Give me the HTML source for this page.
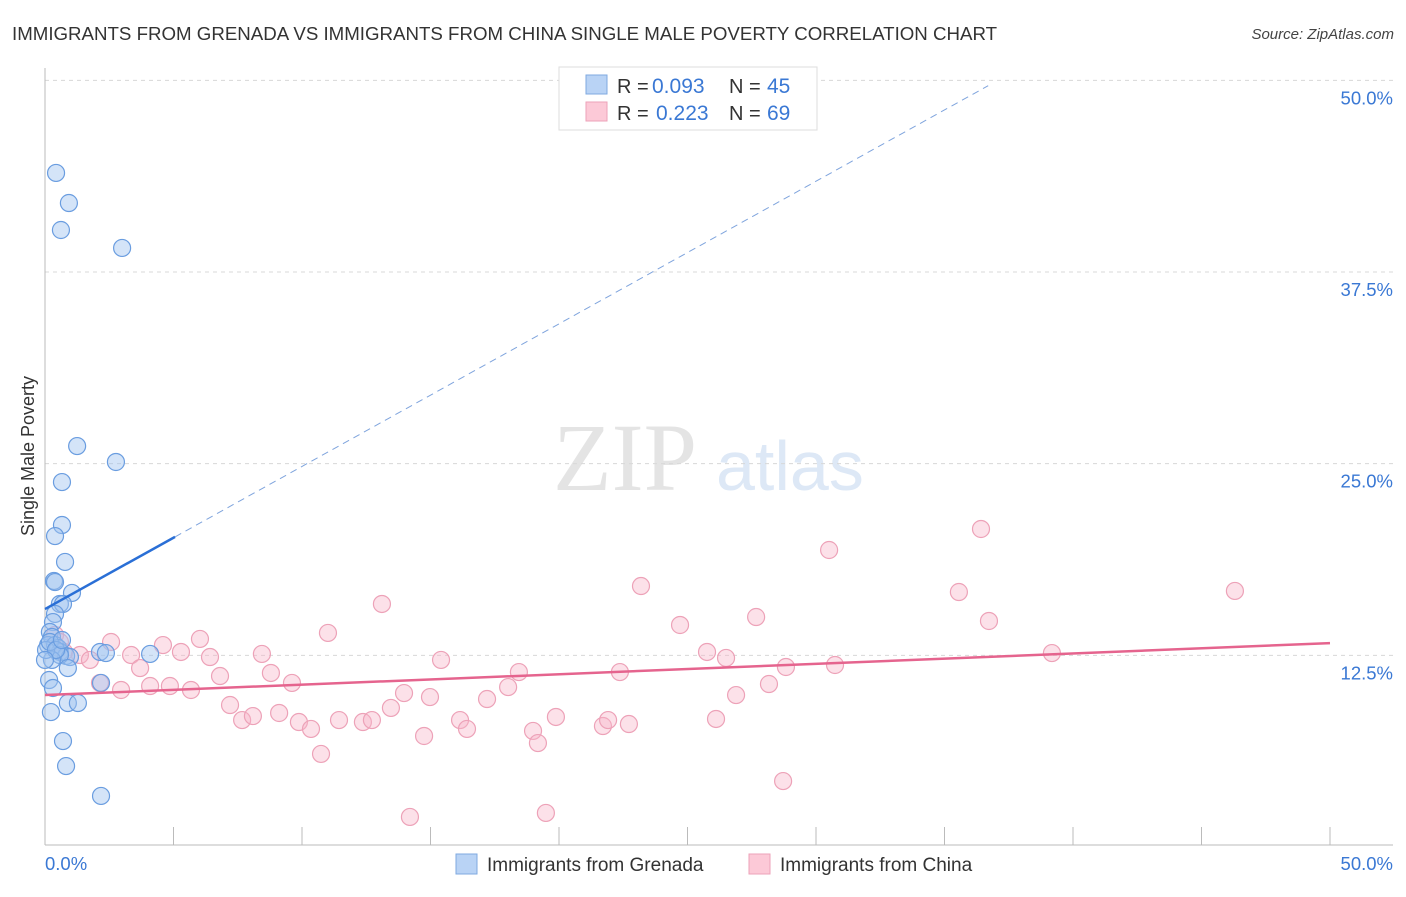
<!DOCTYPE html>
<html><head><meta charset="utf-8"><style>
body{margin:0;background:#fff;font-family:"Liberation Sans",sans-serif}
</style></head><body>
<svg id="chart" width="1406" height="892" xmlns="http://www.w3.org/2000/svg" font-family="Liberation Sans, sans-serif">
<text x="12" y="40" font-size="18.7" fill="#333">IMMIGRANTS FROM GRENADA VS IMMIGRANTS FROM CHINA SINGLE MALE POVERTY CORRELATION CHART</text>
<text x="1394" y="39" font-size="15" fill="#444" font-style="italic" text-anchor="end">Source: ZipAtlas.com</text>
<text x="553" y="490" font-size="96" font-family="Liberation Serif, serif" fill="#e4e4e4">ZIP</text>
<text x="716" y="490" font-size="70" fill="#dde8f6">atlas</text>
<g id="grid"></g>
<g id="axes"></g>
<g id="pink"></g>
<g id="blue"></g>
<g id="trends"></g>
<text transform="translate(34,456) rotate(-90)" font-size="18" fill="#333" text-anchor="middle">Single Male Poverty</text>
<g>
<rect x="559" y="67" width="258" height="63" fill="#fff" stroke="#ddd"/>
<rect x="586" y="75" width="21" height="19" fill="#b9d3f5" stroke="#7fa9e0"/>
<rect x="586" y="102" width="21" height="19" fill="#fcc9d7" stroke="#eda2b8"/>
<text x="617" y="93" font-size="20" fill="#333">R =</text>
<text x="652" y="93" font-size="21" fill="#3a78d4">0.093</text>
<text x="729" y="93" font-size="20" fill="#333">N =</text>
<text x="767" y="93" font-size="21" fill="#3a78d4">45</text>
<text x="617" y="120" font-size="20" fill="#333">R =</text>
<text x="656" y="120" font-size="21" fill="#3a78d4">0.223</text>
<text x="729" y="120" font-size="20" fill="#333">N =</text>
<text x="767" y="120" font-size="21" fill="#3a78d4">69</text>
</g>
<g>
<rect x="456" y="854" width="21" height="20" fill="#b9d3f5" stroke="#7fa9e0"/>
<text x="487" y="871" font-size="19" fill="#333">Immigrants from Grenada</text>
<rect x="749" y="854" width="21" height="20" fill="#fcc9d7" stroke="#eda2b8"/>
<text x="780" y="871" font-size="19" fill="#333">Immigrants from China</text>
</g>
</svg>
<script>
const yTicks=[12.5,25,37.5,50];
const yTickLabels=["12.5%","25.0%","37.5%","50.0%"];
const xTicks=[0,5,10,15,20,25,30,35,40,45,50];
const blueX=[0.43,0.93,0.62,3.0,1.25,2.76,0.66,0.66,0.39,0.78,0.35,0.39,1.05,0.58,0.70,0.39,0.31,0.19,0.27,0.12,0.39,0.51,0.58,0.82,0.97,2.14,2.37,4.09,0.58,0.27,0.89,0.16,0.31,0.89,1.28,0.23,0.70,0.82,2.18,2.18,0.04,0.19,0.43,0.66,0.0];
const blueY=[43.96,42.0,40.24,39.07,26.15,25.11,23.8,21.0,20.28,18.59,17.35,17.28,16.57,15.85,15.85,15.2,14.67,14.02,13.7,13.17,13.17,12.98,12.72,12.46,12.39,12.72,12.65,12.59,12.52,12.2,11.67,10.89,10.37,9.39,9.39,8.8,6.91,5.28,3.33,10.7,12.85,13.37,12.85,13.5,12.2];
const pinkX=[0.39,0.58,0.74,1.36,1.75,2.14,2.57,2.96,3.35,3.70,4.09,4.59,4.86,5.29,5.68,6.03,6.42,6.81,7.20,7.67,8.09,8.44,8.79,9.11,9.61,9.88,10.35,10.74,11.01,11.44,12.37,12.72,13.11,13.46,13.97,14.20,14.75,14.98,15.41,16.15,16.42,17.20,18.02,18.44,18.99,19.18,19.49,19.88,21.71,21.91,22.37,22.72,23.19,24.71,25.76,26.11,26.50,26.89,27.67,28.17,28.72,28.83,30.51,30.74,35.56,36.42,36.73,39.18,46.30];
const pinkY=[13.83,13.37,12.72,12.52,12.2,10.7,13.37,10.24,12.52,11.67,10.5,13.17,10.5,12.72,10.24,13.57,12.39,11.15,9.26,8.28,8.54,12.59,11.35,8.74,10.7,8.15,7.7,6.07,13.96,8.28,8.15,8.28,15.85,9.07,10.04,1.96,7.24,9.78,12.2,8.28,7.7,9.65,10.43,11.41,7.57,6.78,2.22,8.48,7.89,8.28,11.41,8.02,17.02,14.48,12.72,8.35,12.33,9.91,15.0,10.63,4.30,11.74,19.37,11.87,16.63,20.74,14.74,12.65,16.70];
const blueTrend=[15.52,0.93];
const pinkTrend=[9.91,13.30];
const NS="http://www.w3.org/2000/svg";
const sx=v=>45+v*25.7, sy=v=>847-v*15.333;
function mk(tag,attrs,parent){const e=document.createElementNS(NS,tag);for(const k in attrs)e.setAttribute(k,attrs[k]);document.getElementById(parent).appendChild(e);return e;}
yTicks.forEach((t,i)=>{
 const l=mk('line',{x1:45,x2:1393,y1:sy(t),y2:sy(t),stroke:'#d8d8d8','stroke-dasharray':'4,4'},'grid');
 
 
 const tx=mk('text',{x:1393,y:sy(t)+24,'font-size':18.5,fill:'#3a78d4','text-anchor':'end'},'grid');
 tx.textContent=yTickLabels[i];
 
 
});
let a=mk('line',{x1:45,x2:45,y1:68,y2:845,stroke:'#bbb'},'axes');


a=mk('line',{x1:45,x2:1393,y1:845,y2:845,stroke:'#bbb'},'axes');


xTicks.forEach(t=>{const l=mk('line',{x1:sx(t),x2:sx(t),y1:827,y2:845,stroke:'#bbb'},'axes');
 
 });
let t=mk('text',{x:45,y:870,'font-size':18.5,fill:'#3a78d4'},'axes');t.textContent='0.0%';


t=mk('text',{x:1393,y:870,'font-size':18.5,fill:'#3a78d4','text-anchor':'end'},'axes');t.textContent='50.0%';


pinkX.forEach((x,i)=>{const c=mk('circle',{cx:sx(x),cy:sy(pinkY[i]),r:8.5,fill:'rgba(248,180,200,0.4)',stroke:'#eda2b8','stroke-width':1.2},'pink');
 
 });
blueX.forEach((x,i)=>{const c=mk('circle',{cx:sx(x),cy:sy(blueY[i]),r:8.5,fill:'rgba(160,195,240,0.45)',stroke:'#6a9de0','stroke-width':1.2},'blue');
 
 });
const bx1=5.06,bx2=36.7;
let l=mk('line',{x1:sx(0),y1:sy(blueTrend[0]),x2:sx(bx1),y2:sy(blueTrend[0]+blueTrend[1]*bx1),stroke:'#2a6fd6','stroke-width':2.5},'trends');


l=mk('line',{x1:sx(bx1),y1:sy(blueTrend[0]+blueTrend[1]*bx1),x2:sx(bx2),y2:sy(blueTrend[0]+blueTrend[1]*bx2),stroke:'#7fa4dd','stroke-width':1,'stroke-dasharray':'7,5'},'trends');


l=mk('line',{x1:sx(0),y1:sy(pinkTrend[0]),x2:sx(50),y2:sy(pinkTrend[1]),stroke:'#e5648e','stroke-width':2.5},'trends');


</script>
</body></html>
